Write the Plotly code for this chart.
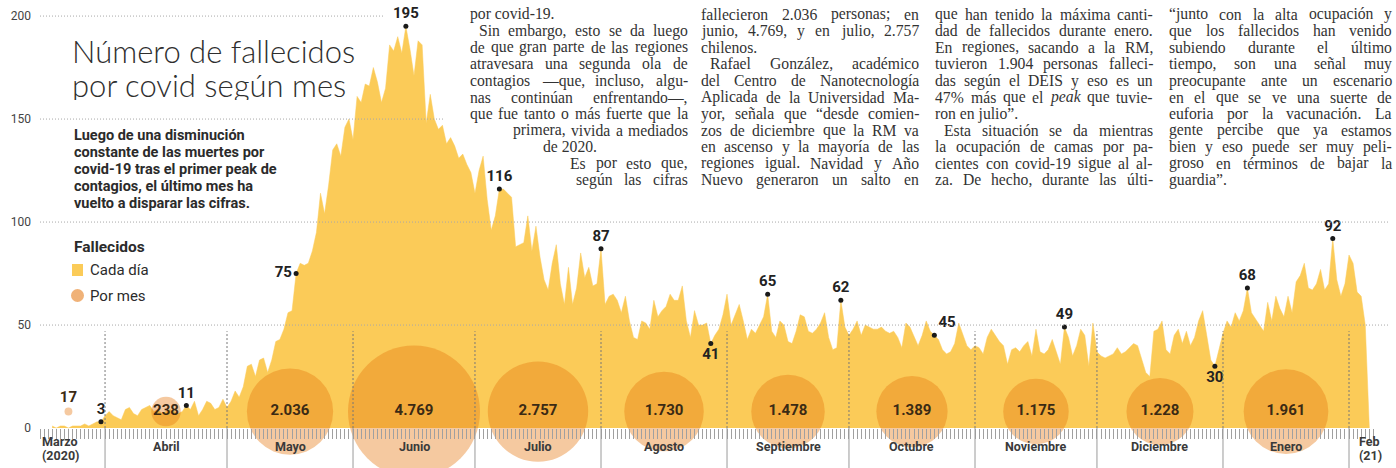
import pandas as pd
import plotly.graph_objects as go

# ---------------- DATA ----------------
mar_2020 = [1, 0, 1, 1, 0, 1, 1, 1, 2, 1, 2, 3, 3]  # Mar 19 - Mar 31
apr_2020 = [6, 8, 6, 5, 4, 9, 10, 7, 6, 9, 10, 11, 8, 9, 7, 8, 9, 8, 7, 8,
            11, 9, 13, 6, 9, 13, 12, 9, 10, 14]
may_2020 = [10, 13, 18, 15, 20, 30, 31, 25, 33, 34, 27, 33, 42, 43, 48, 56, 57, 75,
            80, 79, 80, 86, 95, 114, 104, 118, 135, 138, 132, 146, 150]
jun_2020 = [140, 161, 158, 167, 166, 175, 168, 158, 165, 186, 183, 190, 182, 195, 184,
            171, 188, 186, 148, 162, 150, 145, 147, 138, 141, 137, 131, 133, 128, 124]
jul_2020 = [114, 125, 132, 111, 96, 103, 116, 116, 114, 112, 88, 89, 90, 103, 86, 98,
            83, 72, 67, 80, 89, 70, 60, 78, 60, 68, 85, 73, 78, 69, 70]
aug_2020 = [87, 60, 64, 65, 62, 56, 64, 52, 44, 43, 52, 51, 48, 62, 54, 57, 59, 65,
            62, 62, 69, 52, 44, 57, 50, 50, 51, 41, 45, 48, 55]
sep_2020 = [65, 50, 55, 60, 52, 43, 48, 46, 50, 54, 65, 47, 44, 52, 50, 42, 41, 47,
            55, 54, 47, 46, 48, 51, 56, 44, 38, 39, 62, 49]
oct_2020 = [45, 48, 52, 45, 50, 49, 48, 48, 49, 47, 46, 47, 44, 39, 51, 49, 44, 40,
            45, 52, 47, 45, 43, 38, 36, 37, 41, 51, 45, 40, 38]
nov_2020 = [40, 39, 36, 44, 48, 45, 42, 40, 31, 38, 39, 37, 40, 42, 35, 48, 37, 36,
            38, 43, 37, 31, 49, 44, 35, 40, 48, 45, 30, 51]
dec_2020 = [37, 35, 34, 35, 36, 39, 36, 37, 39, 41, 40, 33, 27, 25, 47, 48, 52, 38,
            36, 45, 48, 41, 47, 40, 44, 52, 57, 45, 33, 30, 38]
jan_2021 = [46, 52, 49, 56, 52, 57, 68, 56, 53, 50, 47, 61, 52, 64, 58, 54, 64, 56,
            71, 74, 80, 68, 67, 70, 77, 67, 70, 92, 72, 64, 70]
feb_2021 = [84, 80, 66, 64, 50, 0]

daily_deaths = (mar_2020 + apr_2020 + may_2020 + jun_2020 + jul_2020 + aug_2020 +
                sep_2020 + oct_2020 + nov_2020 + dec_2020 + jan_2021 + feb_2021)
dates = pd.date_range("2020-03-19", periods=len(daily_deaths), freq="D")

month_names = ["Marzo", "Abril", "Mayo", "Junio", "Julio", "Agosto", "Septiembre",
               "Octubre", "Noviembre", "Diciembre", "Enero"]
month_totals = [17, 238, 2036, 4769, 2757, 1730, 1478, 1389, 1175, 1228, 1961]
month_centers = ["2020-03-23", "2020-04-16", "2020-05-16 12:00", "2020-06-16",
                 "2020-07-16 12:00", "2020-08-16 12:00", "2020-09-16",
                 "2020-10-16 12:00", "2020-11-16", "2020-12-16 12:00", "2021-01-16 12:00"]
month_starts = ["2020-04-01", "2020-05-01", "2020-06-01", "2020-07-01", "2020-08-01",
                "2020-09-01", "2020-10-01", "2020-11-01", "2020-12-01", "2021-01-01",
                "2021-02-01"]

peak_dates = ["2020-03-31", "2020-04-21", "2020-05-18", "2020-06-14", "2020-07-07",
              "2020-08-01", "2020-08-28", "2020-09-11", "2020-09-29", "2020-10-22",
              "2020-11-23", "2020-12-30", "2021-01-07", "2021-01-28"]
peak_text_pos = ["top center", "top center", "middle left", "top center", "top center",
                 "top center", "bottom center", "top center", "top center", "top right",
                 "top center", "bottom center", "top center", "top center"]

y_ticks = [0, 50, 100, 150, 200]

# ---------------- STYLE ----------------
W, H = 1396, 468
L, R = 40, 6
PW = W - L - R
YELLOW = "#FBCB58"
BUBBLE = "rgba(229,120,18,0.57)"
BUBBLE_LIGHT = "#F0B278"
SANS = "Roboto, Arial, sans-serif"
SERIF = "Liberation Serif, Times New Roman, serif"
TXT = "#333333"


def px(x):
    return (x - L) / PW


def py(y):
    return (H - y) / H


series = pd.Series(daily_deaths, index=dates)
peak_vals = [int(series[pd.Timestamp(d)]) for d in peak_dates]

fig = go.Figure()

# daily area
fig.add_trace(go.Scatter(
    x=dates, y=daily_deaths, mode="lines", fill="tozeroy",
    line=dict(color=YELLOW, width=0.5), fillcolor=YELLOW, hoverinfo="skip"))

# monthly bubbles (area proportional)
max_total = max(month_totals)
bubble_sizes = [132 * (v / max_total) ** 0.5 for v in month_totals]
bubble_text = [f"{v:,}".replace(",", ".") for v in month_totals]
bubble_pos = ["top center"] + ["middle center"] * (len(month_totals) - 1)
fig.add_trace(go.Scatter(
    x=month_centers, y=[8] * len(month_totals), mode="markers+text",
    marker=dict(size=bubble_sizes, color=BUBBLE, line=dict(width=0)),
    text=bubble_text, textposition=bubble_pos,
    textfont=dict(family=SANS, size=15, color="#3b2a14", weight="bold"),
    hoverinfo="skip"))

# peak dots
fig.add_trace(go.Scatter(
    x=peak_dates, y=peak_vals, mode="markers+text",
    marker=dict(size=5, color="#1a1a1a"),
    text=[str(v) for v in peak_vals], textposition=peak_text_pos,
    textfont=dict(family=SANS, size=15, color="#222222", weight="bold"),
    hoverinfo="skip"))

shapes = []
grid_ends = {200: 383, 150: 443, 100: 1390, 50: 1390}
for lvl, xe in grid_ends.items():
    shapes.append(dict(type="line", xref="paper", yref="y", x0=0, x1=px(xe),
                       y0=lvl, y1=lvl, layer="above",
                       line=dict(color="#a8a8a8", width=1, dash="1px,2px")))
Y_BOTTOM = -19.4
for d in month_starts:
    shapes.append(dict(type="line", xref="x", yref="y", x0=d, x1=d, y0=0, y1=47,
                       layer="above", line=dict(color="#777777", width=1, dash="2px,2px")))
    shapes.append(dict(type="line", xref="x", yref="y", x0=d, x1=d, y0=Y_BOTTOM, y1=0,
                       layer="above", line=dict(color="#9a9a9a", width=1)))
shapes.append(dict(type="rect", xref="paper", yref="paper", x0=px(72), x1=px(83),
                   y0=py(276), y1=py(264), fillcolor=YELLOW, line=dict(width=0)))
shapes.append(dict(type="circle", xref="paper", yref="paper", x0=px(71), x1=px(84),
                   y0=py(302), y1=py(289), fillcolor=BUBBLE_LIGHT, line=dict(width=0)))

ann = []


def text_at(x, y, s, size, color=TXT, family=SANS, weight="normal", anchor="left", h=None):
    d = dict(x=px(x), y=py(y), xref="paper", yref="paper", text=s,
             showarrow=False, xanchor=anchor, yanchor="middle",
             font=dict(family=family, size=size, color=color, weight=weight))
    if h is not None:
        d["height"] = h
    ann.append(d)


# title & subtitle
text_at(70, 51, "Número de fallecidos", 31, color="#2e2e2e", family="Lato, sans-serif", weight=300, h=30)
text_at(70, 85, "por covid según mes", 31, color="#2e2e2e", family="Lato, sans-serif", weight=300, h=30)
subtitle = ["Luego de una disminución", "constante de las muertes por",
            "covid-19 tras el primer peak de", "contagios, el último mes ha",
            "vuelto a disparar las cifras."]
for i, s in enumerate(subtitle):
    text_at(72, 136 + i * 16.9, s, 14.5, color="#2b2b2b", weight="bold")

# legend
text_at(72, 247, "Fallecidos", 15.5, color="#2b2b2b", weight="bold")
text_at(88, 270, "Cada día", 15, color="#2b2b2b")
text_at(88, 296, "Por mes", 15, color="#2b2b2b")

# month labels
for name, c in zip(month_names[1:], month_centers[1:]):
    ann.append(dict(x=c, y=-9.2, xref="x", yref="y", text=name, showarrow=False,
                    xanchor="center", yanchor="middle",
                    font=dict(family=SANS, size=12.5, color="#3a3a3a", weight="bold")))
text_at(40, 441, "Marzo", 12.5, color="#3a3a3a", weight="bold")
text_at(40, 455, "(2020)", 12.5, color="#3a3a3a", weight="bold")
text_at(1357, 441, "Feb", 12.5, color="#3a3a3a", weight="bold")
text_at(1357, 455, "(21)", 12.5, color="#3a3a3a", weight="bold")

# ---------- newspaper body text (justified, Times metrics) ----------
TW = {" ": 250, ",": 250, ".": 250, ";": 278, ":": 278, "-": 333, "—": 1000,
      "“": 444, "”": 444, "%": 833, "(": 333, ")": 333}
TW.update({c: 500 for c in "0123456789"})
TW.update(dict(zip("abcdefghijklmnopqrstuvwxyz",
                   [444, 500, 444, 500, 444, 333, 500, 500, 278, 278, 500, 278, 778,
                    500, 500, 500, 500, 333, 389, 278, 500, 500, 722, 500, 500, 444])))
TW.update(dict(zip("ABCDEFGHIJKLMNOPQRSTUVWXYZ",
                   [722, 667, 667, 722, 611, 556, 722, 722, 333, 389, 722, 611, 889,
                    722, 722, 556, 722, 667, 556, 611, 722, 722, 944, 722, 722, 611])))
TW.update({"á": 444, "é": 444, "í": 278, "ó": 500, "ú": 500, "ñ": 500, "ü": 500,
           "Á": 722, "É": 611})


def tw(word, size):
    plain = word.replace("<i>", "").replace("</i>", "")
    return sum(TW.get(ch, 500) for ch in plain) * size / 1000.0


FS = 15.7


def body_line(s, x0, x1, y, mode):
    if mode == "left":
        text_at(x0, y, s, FS, family=SERIF)
        return
    if mode == "right":
        text_at(x1, y, s, FS, family=SERIF, anchor="right")
        return
    words = s.split(" ")
    widths = [tw(w, FS) for w in words]
    gap = (x1 - x0 - sum(widths)) / max(len(words) - 1, 1)
    x = x0
    for w, wd in zip(words, widths):
        text_at(x, y, w, FS, family=SERIF)
        x += wd + gap


line_y = [14, 31, 47.5, 64, 80.5, 97, 113.5, 130, 146.5, 163, 179.5]
col1 = [("por covid-19.", 468, 686, "left"),
        ("Sin embargo, esto se da luego", 477, 686, "j"),
        ("de que gran parte de las regiones", 468, 686, "j"),
        ("atravesara una segunda ola de", 468, 686, "j"),
        ("contagios —que, incluso, algu-", 468, 686, "j"),
        ("nas continúan enfrentando—,", 468, 686, "j"),
        ("que fue tanto o más fuerte que la", 468, 686, "j"),
        ("primera, vivida a mediados", 511, 686, "j"),
        ("de 2020.", 541, 686, "left"),
        ("Es por esto que,", 568, 686, "j"),
        ("según las cifras", 574, 686, "j")]
col2 = [("fallecieron 2.036 personas; en", "j"), ("junio, 4.769, y en julio, 2.757", "j"),
        ("chilenos.", "left"), ("Rafael González, académico", "ji"),
        ("del Centro de Nanotecnología", "j"), ("Aplicada de la Universidad Ma-", "j"),
        ("yor, señala que “desde comien-", "j"), ("zos de diciembre que la RM va", "j"),
        ("en ascenso y la mayoría de las", "j"), ("regiones igual. Navidad y Año", "j"),
        ("Nuevo generaron un salto en", "j")]
col3 = [("que han tenido la máxima canti-", "j"), ("dad de fallecidos durante enero.", "j"),
        ("En regiones, sacando a la RM,", "j"), ("tuvieron 1.904 personas falleci-", "j"),
        ("das según el DEIS y eso es un", "j"), ("47% más que el <i>peak</i> que tuvie-", "j"),
        ("ron en julio”.", "left"), ("Esta situación se da mientras", "ji"),
        ("la ocupación de camas por pa-", "j"), ("cientes con covid-19 sigue al al-", "j"),
        ("za. De hecho, durante las últi-", "j")]
col4 = [("“junto con la alta ocupación y", "j"), ("que los fallecidos han venido", "j"),
        ("subiendo durante el último", "j"), ("tiempo, son una señal muy", "j"),
        ("preocupante ante un escenario", "j"), ("en el que se ve una suerte de", "j"),
        ("euforia por la vacunación. La", "j"), ("gente percibe que ya estamos", "j"),
        ("bien y eso puede ser muy peli-", "j"), ("groso en términos de bajar la", "j"),
        ("guardia”.", "left")]

for (s, a, b, m), y in zip(col1, line_y):
    body_line(s, a, b, y, m)
for cols, (a, b) in ((col2, (699, 917)), (col3, (933, 1151)), (col4, (1167, 1390))):
    for (s, m), y in zip(cols, line_y):
        if m == "ji":
            body_line(s, a + 9, b, y, "j")
        else:
            body_line(s, a, b, y, m)

fig.update_layout(
    width=W, height=H, template="none",
    margin=dict(l=L, r=R, t=0, b=0, pad=0),
    paper_bgcolor="white", plot_bgcolor="white",
    showlegend=False, shapes=shapes, annotations=ann,
    xaxis=dict(type="date", range=["2020-03-16", "2021-02-11 02:00"],
               anchor="free", position=py(428), side="bottom",
               showgrid=False, zeroline=False, showline=False,
               ticks="outside", ticklen=10, tickwidth=1, tickcolor="#a0a0a0",
               tickvals=list(pd.date_range("2020-03-16", "2021-02-07", freq="D")),
               showticklabels=False, layer="above traces", automargin=False),
    yaxis=dict(range=[Y_BOTTOM, 207.8], tickvals=y_ticks,
               ticktext=[str(v) for v in y_ticks], showgrid=False, zeroline=False,
               showline=False, ticks="", ticklabelstandoff=8,
               tickfont=dict(family=SANS, size=12, color="#444444"),
               layer="above traces", automargin=False),
)

fig.write_html("out.html", config={"displayModeBar": False},
               post_script="document.body.style.margin='0px';")
